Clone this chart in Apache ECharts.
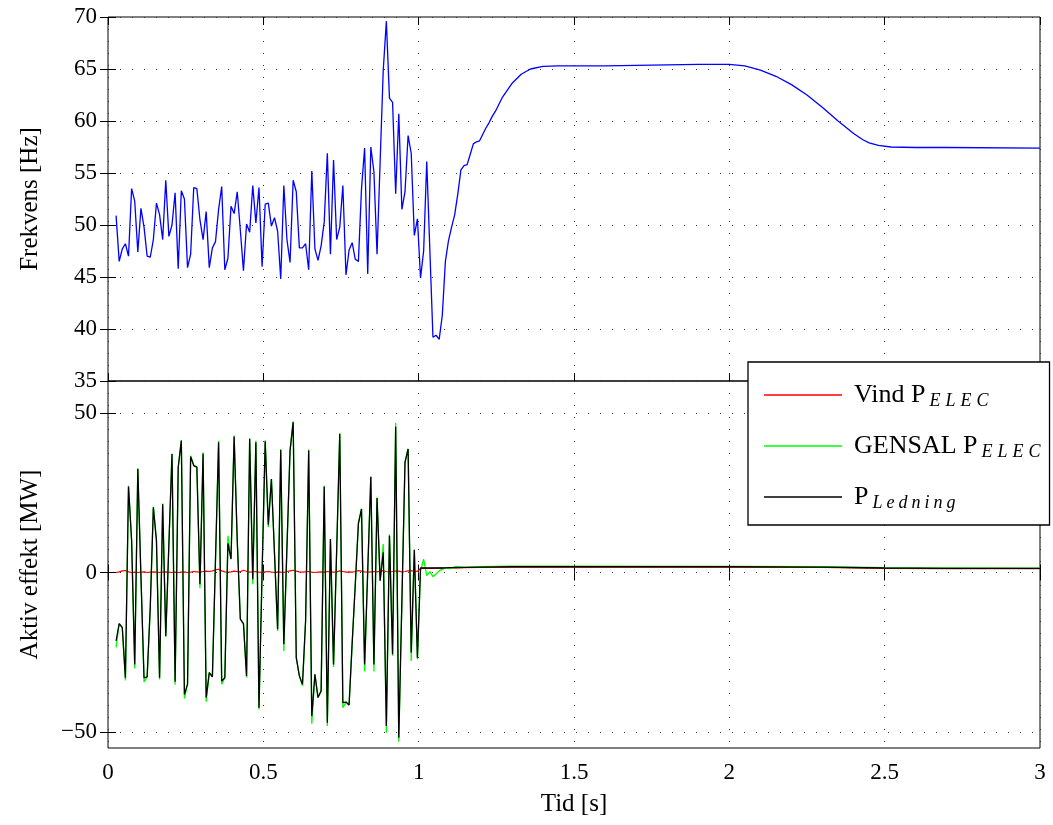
<!DOCTYPE html>
<html>
<head>
<meta charset="utf-8">
<script src="https://cdn.jsdelivr.net/npm/echarts@6/dist/echarts.min.js"></script>
<style>
  html, body { margin: 0; padding: 0; background: #fff; }
  #chart { width: 1053px; height: 825px; }
</style>
</head>
<body>
<div id="chart"></div>
<script>
// Sampled simulation output: fast section is logged every 10 ms from t = 0.026 s
const fastStart = 0.026;
const fastStep = 0.01;

// Frequency [Hz], fast section
const freqFast = [
  50.9, 46.5, 47.7, 48.2, 47.0, 53.5, 52.3, 47.4, 51.6, 49.8,
  47.0, 46.9, 48.6, 52.1, 51.0, 48.6, 54.3, 48.9, 50.0, 53.1,
  45.8, 53.3, 52.5, 45.9, 47.2, 53.6, 53.5, 50.5, 48.6, 51.3,
  45.9, 47.8, 48.4, 51.5, 53.7, 45.7, 46.8, 51.8, 51.1, 53.2,
  49.5, 45.6, 50.1, 49.3, 53.8, 50.2, 53.6, 46.0, 52.0, 52.1,
  49.9, 50.7, 49.4, 44.8, 53.8, 48.6, 46.4, 54.3, 53.2, 47.8,
  47.8, 48.2, 45.7, 55.2, 47.7, 46.6, 48.0, 50.3, 56.9, 47.2,
  56.25, 48.6, 49.8, 53.8, 45.2, 47.6, 48.3, 46.7, 46.5, 53.5,
  57.4, 45.3, 57.5, 55.1, 47.2, 56.1, 64.9, 69.6, 62.2, 61.8,
  53.0, 60.7, 51.5, 53.2, 58.6, 56.9, 49.0, 50.6, 44.9, 47.5,
  56.1, 47.6, 39.2, 39.4, 39.0, 41.3, 46.5
];
// Frequency [Hz], recovery section
const freqTailTime = [
  1.096, 1.106, 1.116, 1.126, 1.136, 1.146, 1.156, 1.166, 1.176, 1.186,
  1.196, 1.206, 1.216, 1.226, 1.236, 1.25, 1.27, 1.3, 1.33, 1.36,
  1.4, 1.45, 1.5, 1.6, 1.7, 1.8, 1.9, 2.0, 2.05, 2.1,
  2.15, 2.2, 2.25, 2.3, 2.35, 2.4, 2.43, 2.45, 2.48, 2.52,
  2.6, 2.7, 3.0
];
const freqTail = [
  48.5, 49.8, 51.0, 53.0, 55.3, 55.7, 55.8, 56.8, 57.8, 58.0,
  58.1, 58.7, 59.3, 59.8, 60.4, 61.1, 62.3, 63.6, 64.5, 65.0,
  65.25, 65.3, 65.3, 65.3, 65.35, 65.4, 65.45, 65.45, 65.3, 64.9,
  64.3, 63.5, 62.5, 61.3, 60.0, 58.8, 58.2, 57.9, 57.65, 57.5,
  57.45, 57.45, 57.4
];

// Active power [MW], fast section
const pLedningFast = [
  -21.4, -16.0, -17.3, -33.0, 26.9, 10.0, -28.8, 32.4, -1.0, -33.0,
  -32.7, -11.0, 20.4, 9.9, -33.0, 21.4, -19.9, 9.0, 37.1, -34.2,
  32.9, 41.3, -38.2, -35.0, 36.3, 33.5, 33.0, -3.7, 37.3, -39.2,
  -31.4, -32.7, 4.0, 40.8, -34.0, -33.0, 9.1, 4.2, 42.6, 10.0,
  -14.6, -16.0, -32.4, 41.8, -2.1, 40.8, -42.4, 0.0, 41.1, 15.0,
  29.3, 5.8, -17.8, 38.4, -22.5, 7.8, 38.2, 47.1, -26.7, -32.4,
  -35.0, -15.2, 38.2, -45.0, -31.9, -39.2, -37.1, 26.9, -47.1, 10.5,
  -28.8, 6.8, 43.4, -40.8, -40.6, -41.5, -22.0, -3.7, 15.2, 19.9,
  -28.8, 0.5, 30.0, -28.8, 23.3, -2.6, 6.3, -48.1, 11.5, -25.6,
  45.7, -51.8, -8.9, 34.5, 38.7, -25.1, 7.0, -26.7
];
const gensalFast = [
  -23.5, -16.0, -17.3, -33.8, 27.2, 10.0, -30.1, 32.7, -1.0, -34.3,
  -32.7, -11.0, 20.6, 9.9, -33.5, 21.6, -20.2, 9.0, 37.3, -35.2,
  32.9, 41.5, -39.5, -35.0, 36.6, 33.5, 33.0, -4.9, 37.6, -40.5,
  -31.4, -32.7, 4.0, 41.3, -35.0, -33.0, 11.5, 4.2, 42.9, 10.0,
  -14.6, -16.0, -32.9, 42.1, -3.7, 41.3, -42.9, 0.0, 41.4, 14.2,
  29.3, 5.8, -18.3, 38.7, -24.6, 7.8, 38.2, 47.4, -26.7, -32.4,
  -35.5, -15.2, 38.5, -47.4, -31.9, -39.2, -37.1, 27.2, -48.1, 10.5,
  -29.6, 6.8, 43.7, -42.4, -40.6, -41.5, -22.0, -3.7, 15.7, 19.9,
  -31.0, 0.5, 30.0, -31.0, 23.5, -2.6, 8.9, -50.2, 12.0, -26.1,
  46.8, -53.0, -8.9, 34.5, 38.7, -27.7, 7.3, -27.2
];
const vindFast = [
  0.0, 0.2, 0.5, 0.6, 0.2, 0.0, 0.1, 0.0, 0.1, 0.2,
  0.0, 0.1, 0.2, 0.1, 0.0, 0.1, 0.2, 0.1, 0.0, 0.1,
  0.0, 0.1, 0.2, 0.0, 0.1, 0.3, 0.2, 0.1, 0.3, 0.4,
  0.3, 0.5, 0.8, 1.0, 0.5, 0.2, 0.1, 0.2, 0.4, 0.3,
  0.2, 0.7, 0.4, 0.1, 0.2, 0.3, 0.1, 0.0, 0.2, 0.3,
  0.1, 0.0, 0.2, 0.1, 0.0, 0.3, 0.5, 0.7, 0.4, 0.2,
  0.1, 0.2, 0.3, 0.1, 0.0, 0.1, 0.2, 0.1, 0.3, 0.2,
  0.1, 0.2, 0.5, 0.3, 0.1, 0.2, 0.1, 0.3, 0.6, 0.4,
  0.2, 0.1, 0.2, 0.3, 0.2, 0.4, 0.6, 0.3, 0.2, 0.3,
  0.5, 0.4, 0.2, 0.3, 0.5, 0.6, 0.3, 0.4
];
// Active power [MW], after the disturbance is cleared
const powerTailTime = [
  1.006, 1.016, 1.026, 1.036, 1.046, 1.056, 1.066, 1.076, 1.086, 1.1,
  1.12, 1.15, 1.2, 1.3, 1.5, 2.0, 2.3, 2.5, 2.7, 3.0
];
const pLedningTail = [
  1.4, 1.4, 1.4, 1.4, 1.4, 1.4, 1.4, 1.4, 1.45, 1.5,
  1.5, 1.6, 1.7, 1.8, 1.8, 1.8, 1.7, 1.4, 1.3, 1.3
];
const gensalTail = [
  0.5, 4.2, -1.0, 0.3, -1.3, -0.5, 0.5, 1.0, 1.4, 1.2,
  1.9, 1.6, 1.8, 2.0, 2.0, 1.9, 1.8, 1.5, 1.4, 1.35
];
const vindTail = [
  1.3, 1.3, 1.3, 1.3, 1.3, 1.35, 1.35, 1.35, 1.4, 1.45,
  1.45, 1.5, 1.6, 1.7, 1.7, 1.7, 1.6, 1.3, 1.2, 1.2
];

// Axis tick values
const powerTicks = [-50, 0, 50];

const SERIF = "'Liberation Serif', 'DejaVu Serif', serif";

function fastPairs(values) {
  return values.map((v, i) => [+(fastStart + i * fastStep).toFixed(3), v]);
}
function zipPairs(times, values) {
  return times.map((t, i) => [t, values[i]]);
}
const minusSign = v => String(v).replace('-', '\u2212');

const dotted = { color: '#333', width: 1, type: [1, 11] };
const tickStyle = { color: '#000', width: 1 };

function timeAxis(gridIndex, position, showLabels) {
  return {
    type: 'value', gridIndex, position, min: 0, max: 3, interval: 0.5,
    axisLine: { show: false },
    axisTick: { show: true, inside: true, length: 8, lineStyle: tickStyle },
    axisLabel: {
      show: showLabels, color: '#000', fontFamily: SERIF, fontSize: 23, margin: 13,
      formatter: v => String(v)
    },
    splitLine: { show: position === 'bottom', lineStyle: dotted },
    name: showLabels ? 'Tid [s]' : '',
    nameLocation: 'middle', nameGap: 44,
    nameTextStyle: { color: '#000', fontFamily: SERIF, fontSize: 25 }
  };
}

// Legend labels: "main_sub" is drawn with the part after "_" as an italic subscript
const legendNames = ['Vind P_ELEC', 'GENSAL P_ELEC', 'P_Ledning'];
function legendLabel(name) {
  const [main, sub] = name.split('_');
  const style = sub === sub.toUpperCase() ? 'u' : 'l';
  const subText = sub.split('').map(c => '{' + style + '|' + c + '}').join('');
  return '{m|' + main + '}' + subText;
}

const chart = echarts.init(document.getElementById('chart'), null, { renderer: 'canvas' });

const option = {
  backgroundColor: '#fff',
  animation: false,
  grid: [
    { left: 108, right: 13, top: 17, height: 364, show: true, borderColor: '#000', borderWidth: 1, backgroundColor: 'transparent' },
    { left: 108, right: 13, top: 381, height: 367, show: true, borderColor: '#000', borderWidth: 1, backgroundColor: 'transparent' }
  ],
  xAxis: [
    timeAxis(0, 'bottom', false),
    timeAxis(0, 'top', false),
    timeAxis(1, 'bottom', true),
    timeAxis(1, 'top', false)
  ],
  yAxis: [
    {
      type: 'value', gridIndex: 0, position: 'left', min: 35, max: 70, interval: 5,
      axisLine: { show: false },
      axisTick: { show: true, inside: true, length: 8, lineStyle: tickStyle },
      axisLabel: { color: '#000', fontFamily: SERIF, fontSize: 23, margin: 11 },
      splitLine: { show: true, lineStyle: dotted },
      name: 'Frekvens [Hz]', nameLocation: 'middle', nameGap: 65,
      nameTextStyle: { color: '#000', fontFamily: SERIF, fontSize: 25 }
    },
    {
      type: 'value', gridIndex: 0, position: 'right', min: 35, max: 70, interval: 5,
      axisLine: { show: false },
      axisTick: { show: true, inside: true, length: 8, lineStyle: tickStyle },
      axisLabel: { show: false }, splitLine: { show: false }
    },
    {
      type: 'value', gridIndex: 1, position: 'left', min: -55, max: 60,
      axisLine: { show: false },
      axisTick: { show: true, inside: true, length: 8, lineStyle: tickStyle, customValues: powerTicks },
      axisLabel: { color: '#000', fontFamily: SERIF, fontSize: 23, margin: 11, customValues: powerTicks, formatter: minusSign },
      splitLine: { show: true, lineStyle: dotted },
      name: 'Aktiv effekt [MW]', nameLocation: 'middle', nameGap: 65,
      nameTextStyle: { color: '#000', fontFamily: SERIF, fontSize: 25 }
    },
    {
      type: 'value', gridIndex: 1, position: 'right', min: -55, max: 60,
      axisLine: { show: false },
      axisTick: { show: true, inside: true, length: 8, lineStyle: tickStyle, customValues: powerTicks },
      axisLabel: { show: false, customValues: powerTicks }, splitLine: { show: false }
    }
  ],
  legend: {
    orient: 'vertical', left: 748, top: 362,
    backgroundColor: '#fff', borderColor: '#000', borderWidth: 1.3, borderRadius: 0,
    padding: [20, 4, 13, 16], itemGap: 23, itemWidth: 78, itemHeight: 1.5,
    icon: 'rect',
    z: 10,
    data: legendNames,
    formatter: legendLabel,
    textStyle: {
      color: '#000', fontFamily: SERIF, fontSize: 26,
      rich: {
        m: { fontFamily: SERIF, fontSize: 26, lineHeight: 26, verticalAlign: 'top', padding: [0, 4, 0, 7], color: '#000' },
        u: { fontFamily: SERIF, fontSize: 18, fontStyle: 'italic', lineHeight: 16, verticalAlign: 'top', padding: [10, 5, 0, 0], color: '#000' },
        l: { fontFamily: SERIF, fontSize: 18, fontStyle: 'italic', lineHeight: 16, verticalAlign: 'top', padding: [10, 4, 0, 0], color: '#000' }
      }
    }
  },
  series: [
    {
      name: 'Frekvens', type: 'line', xAxisIndex: 0, yAxisIndex: 0,
      symbol: 'none', lineStyle: { color: '#0000ff', width: 1.3 }, itemStyle: { color: '#0000ff' },
      data: fastPairs(freqFast).concat(zipPairs(freqTailTime, freqTail)), z: 3
    },
    {
      name: legendNames[0], type: 'line', xAxisIndex: 2, yAxisIndex: 2,
      symbol: 'none', lineStyle: { color: '#ff0000', width: 1.2 }, itemStyle: { color: '#ff0000' },
      data: fastPairs(vindFast).concat(zipPairs(powerTailTime, vindTail)), z: 3
    },
    {
      name: legendNames[1], type: 'line', xAxisIndex: 2, yAxisIndex: 2,
      symbol: 'none', lineStyle: { color: '#00ff00', width: 1.3 }, itemStyle: { color: '#00ff00' },
      data: fastPairs(gensalFast).concat(zipPairs(powerTailTime, gensalTail)), z: 4
    },
    {
      name: legendNames[2], type: 'line', xAxisIndex: 2, yAxisIndex: 2,
      symbol: 'none', lineStyle: { color: '#000000', width: 1.3 }, itemStyle: { color: '#000000' },
      data: fastPairs(pLedningFast).concat(zipPairs(powerTailTime, pLedningTail)), z: 5
    }
  ]
};

chart.setOption(option);
</script>
</body>
</html>
